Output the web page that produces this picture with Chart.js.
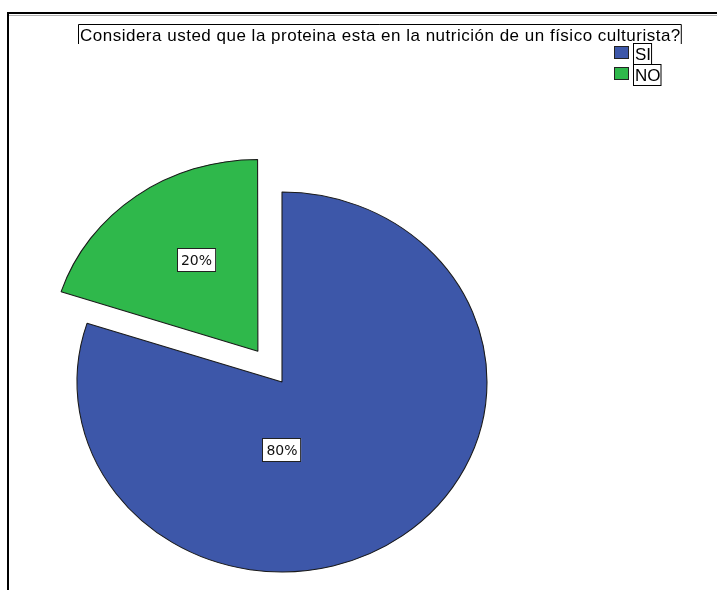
<!DOCTYPE html>
<html>
<head>
<meta charset="utf-8">
<script src="https://cdn.jsdelivr.net/npm/chart.js@4/dist/chart.umd.min.js"></script>
<style>
  html, body { margin: 0; padding: 0; background: #fff; }
  #wrap { position: relative; width: 717px; height: 590px; }
</style>
</head>
<body>
<div id="wrap"><canvas id="pie-chart" width="717" height="590"></canvas></div>
<script>
const titleText = 'Considera usted que la proteina esta en la nutrición de un físico culturista?';
const categories = ['SI', 'NO'];
const percentages = [80, 20];
const sliceColors = ['#3d57a9', '#2fb84b'];

// pie is drawn as an ellipse: horizontal radius / vertical radius
const pieRadius = 190;
const stretchX = 205 / 190;

// where each percentage box sits: angle from 12 o'clock and share of radius
const labelAngle = [180, 328];
const labelDist = [0.36, 0.565];

// frame lines, boxed title and legend
const framePlugin = {
    id: 'frame',
    afterDraw(chart) {
        const ctx = chart.ctx;
        ctx.save();
        ctx.strokeStyle = '#000';
        ctx.lineWidth = 2;
        ctx.beginPath();
        ctx.moveTo(7, 13); ctx.lineTo(717, 13);
        ctx.moveTo(8, 12); ctx.lineTo(8, 590);
        ctx.stroke();
        ctx.strokeStyle = '#b0b0b0';
        ctx.lineWidth = 1;
        ctx.beginPath();
        ctx.moveTo(9, 15.5); ctx.lineTo(717, 15.5);
        ctx.stroke();

        // title
        ctx.font = '17px "Liberation Sans", Arial, sans-serif';
        ctx.letterSpacing = '0.5px';
        ctx.fillStyle = '#000';
        ctx.textBaseline = 'alphabetic';
        ctx.textAlign = 'left';
        ctx.fillText(titleText, 80, 41);
        const w = ctx.measureText(titleText).width;
        ctx.letterSpacing = '0px';
        ctx.strokeStyle = '#000';
        ctx.lineWidth = 1;
        ctx.beginPath();
        ctx.moveTo(78.5, 44); ctx.lineTo(78.5, 24.5); ctx.lineTo(80 + w + 0.5, 24.5); ctx.lineTo(80 + w + 0.5, 44);
        ctx.stroke();

        // legend
        categories.forEach((name, i) => {
            const top = 46 + i * 21;
            ctx.fillStyle = sliceColors[i];
            ctx.fillRect(614, top, 15, 13);
            ctx.strokeStyle = '#222';
            ctx.strokeRect(614.5, top + 0.5, 14, 12);
            ctx.font = '17px "Liberation Sans", Arial, sans-serif';
            const tw = ctx.measureText(name).width;
            ctx.fillStyle = '#fff';
            ctx.fillRect(633, 43 + i * 21, tw + 3, 21);
            ctx.strokeStyle = '#000';
            ctx.strokeRect(633.5, 43.5 + i * 21, tw + 2, 21);
            ctx.fillStyle = '#000';
            ctx.fillText(name, 635, 60 + i * 21);
        });
        ctx.restore();
    }
};

// squeeze the round pie into an ellipse around its centre
const ellipsePlugin = {
    id: 'ellipse',
    beforeDatasetsDraw(chart) {
        const arc = chart.getDatasetMeta(0).data[0];
        const ctx = chart.ctx;
        ctx.save();
        ctx.translate(arc.x, arc.y);
        ctx.scale(stretchX, 1);
        ctx.translate(-arc.x, -arc.y);
    },
    afterDatasetsDraw(chart) {
        chart.ctx.restore();
    }
};

// boxed percentage labels
const pctLabelPlugin = {
    id: 'pctLabels',
    afterDatasetsDraw(chart) {
        const ctx = chart.ctx;
        const meta = chart.getDatasetMeta(0);
        const ds = chart.data.datasets[0];
        const total = ds.data.reduce((a, b) => a + b, 0);
        ctx.save();
        ctx.font = '14px "DejaVu Sans", sans-serif';
        ctx.textAlign = 'center';
        ctx.textBaseline = 'middle';
        meta.data.forEach((arc, i) => {
            const mid = (arc.startAngle + arc.endAngle) / 2;
            const shift = (ds.offset[i] || 0) / 4;
            const cx = arc.x + Math.cos(mid) * shift;
            const cy = arc.y + Math.sin(mid) * shift;
            const a = (labelAngle[i] - 90) * Math.PI / 180;
            const d = arc.outerRadius * labelDist[i];
            const x = arc.x + (cx - arc.x + Math.cos(a) * d) * stretchX;
            const y = cy + Math.sin(a) * d;
            const txt = Math.round(ds.data[i] / total * 100) + '%';
            const bw = ctx.measureText(txt).width + 8;
            const bh = 24;
            ctx.fillStyle = '#fff';
            ctx.fillRect(Math.round(x - bw / 2), Math.round(y - bh / 2), bw, bh);
            ctx.strokeStyle = '#222';
            ctx.lineWidth = 1;
            ctx.strokeRect(Math.round(x - bw / 2) + 0.5, Math.round(y - bh / 2) + 0.5, bw - 1, bh - 1);
            ctx.fillStyle = '#111';
            ctx.fillText(txt, x, y + 1);
        });
        ctx.restore();
    }
};

const ctxPie = document.getElementById('pie-chart').getContext('2d');
new Chart(ctxPie, {
    type: 'pie',
    data: {
        labels: categories,
        datasets: [{
            data: percentages,
            backgroundColor: sliceColors,
            borderColor: '#1a1a1a',
            borderWidth: 1,
            offset: [0, 152]
        }]
    },
    options: {
        responsive: false,
        animation: false,
        radius: pieRadius,
        layout: {
            padding: { left: 0, right: 153, top: 174, bottom: 0 }
        },
        plugins: {
            legend: { display: false },
            title: { display: false },
            tooltip: { enabled: false }
        }
    },
    plugins: [ellipsePlugin, pctLabelPlugin, framePlugin]
});
</script>
</body>
</html>
